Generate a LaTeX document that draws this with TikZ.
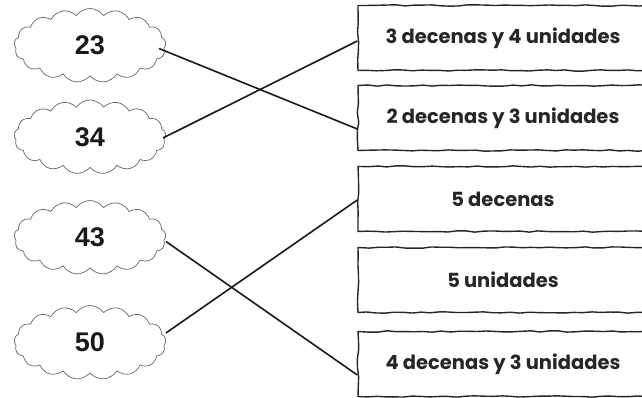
\documentclass[tikz,border=0pt]{standalone}
\usepackage{fontspec}
\setmainfont{Liberation Sans}
\newfontfamily\gothic{Poppins}
\usetikzlibrary{shapes.symbols,decorations.pathmorphing}
\begin{document}
\begin{tikzpicture}[x=1pt,y=1pt,
 cloudnode/.style={cloud, cloud puffs=17, cloud puff arc=110, aspect=2.1, draw=black!60, line width=0.7pt, minimum width=152pt, minimum height=74pt, inner sep=0pt, font=\fontsize{27}{30}\selectfont\bfseries, text=black!90},
 answer/.style={draw=black!85, line width=1.4pt, minimum width=290pt, minimum height=65pt, decorate, decoration={random steps, segment length=9pt, amplitude=0.7pt}, font=\gothic\bfseries\fontsize{19.5}{22}\selectfont, text=black!85},
 link/.style={line width=1.6pt, black!90}]
\useasboundingbox (0,0) rectangle (642,398);
\clip (0,0) rectangle (642,398);
\pgfmathsetseed{7}
\node[cloudnode] (c23) at (90,352.5) {23};
\node[cloudnode] (c34) at (90,261) {34};
\node[cloudnode] (c43) at (90,160.5) {43};
\node[cloudnode] (c50) at (90,55.5) {50};
\node[answer] (b1) at (503,360) {3 decenas y 4 unidades};
\node[answer] (b2) at (503,280) {2 decenas y 3 unidades};
\node[answer] (b3) at (503,199) {5 decenas};
\node[answer] (b4) at (503,118) {5 unidades};
\node[answer] (b5) at (503,34) {4 decenas y 3 unidades};
\draw[link] ([shift={(-7,-3)}]c23.east) -- ([yshift=-11]b2.west);
\draw[link] ([shift={(-3,-1)}]c34.east) -- ([yshift=-3]b1.west);
\draw[link] ([yshift=-4]c43.east) -- ([yshift=-11]b5.west);
\draw[link] ([yshift=9.5]c50.east) -- ([yshift=-1]b3.west);
\end{tikzpicture}
\end{document}
